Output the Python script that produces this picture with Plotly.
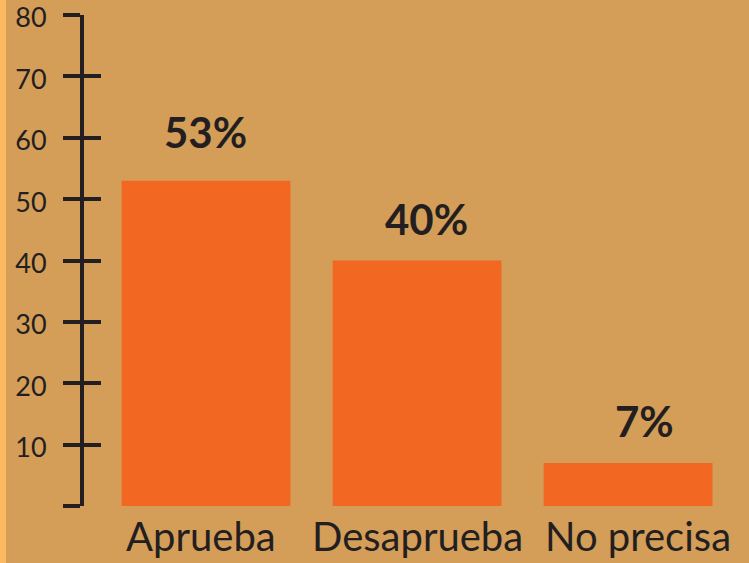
import plotly.graph_objects as go

categories = ["Aprueba", "Desaprueba", "No precisa"]
values = [53, 40, 7]
tick_vals = [0, 10, 20, 30, 40, 50, 60, 70, 80]
tick_text = ["", "10", "20", "30", "40", "50", "60", "70", "80"]

BG = "#D49D58"
BAR = "#F26722"
INK = "#231F20"
FONT = "Lato"

# nudges for the labels, as set in the original
label_dx = [0, 9, 16]
label_dy = [22, 15, 15]
cat_dx = [-5, 0, 10]

fig = go.Figure()

fig.add_trace(
    go.Bar(
        x=categories,
        y=values,
        marker=dict(color=BAR, line=dict(width=0)),
        width=0.8,
        showlegend=False,
        hoverinfo="skip",
    )
)
# invisible trace so the overlay axis (crossing ticks) is drawn
fig.add_trace(
    go.Scatter(x=categories, y=values, yaxis="y2", mode="markers",
               marker=dict(opacity=0), showlegend=False, hoverinfo="skip")
)

for cat, v, dx, dy in zip(categories, values, label_dx, label_dy):
    fig.add_annotation(
        x=cat, y=v, text=f"<b>{v}%</b>", showarrow=False,
        yanchor="bottom", yshift=dy, xshift=dx,
        font=dict(family=FONT, size=42, color=INK),
    )

# category names under the bars
for cat, dx in zip(categories, cat_dx):
    fig.add_annotation(
        x=cat, y=0, yref="paper", text=cat, showarrow=False,
        yanchor="top", yshift=-4, xshift=dx,
        font=dict(family=FONT, size=40, color=INK),
    )

axis_common = dict(
    range=[0, 80],
    tickmode="array",
    tickvals=tick_vals,
    showgrid=False,
    zeroline=False,
    tickwidth=4,
    ticklen=17,
    tickcolor=INK,
)

fig.update_layout(
    width=749,
    height=563,
    paper_bgcolor=BG,
    plot_bgcolor=BG,
    margin=dict(l=84, r=0, t=15, b=57, autoexpand=False),
    bargap=0.2,
    xaxis=dict(
        type="category",
        range=[-0.578, 2.573],
        showline=False,
        ticks="",
        showgrid=False,
        showticklabels=False,
        automargin=False,
    ),
    yaxis=dict(
        **axis_common,
        ticktext=tick_text,
        ticks="outside",
        showline=True,
        linewidth=4,
        linecolor=INK,
        tickfont=dict(family=FONT, size=27, color=INK),
        ticklabelstandoff=11,
        ticklabelshift=3,
        ticklabeloverflow="allow",
        automargin=False,
    ),
    yaxis2=dict(
        **axis_common,
        overlaying="y",
        side="left",
        ticks="inside",
        showticklabels=False,
        showline=False,
    ),
    shapes=[
        dict(type="rect", xref="paper", yref="paper",
             x0=-0.2, x1=-78 / 665, y0=-0.2, y1=1.1,
             fillcolor="#FDB862", line=dict(width=0), layer="below"),
    ],
)

fig.write_html("out.html", config={"displayModeBar": False},
               post_script="document.body.style.margin='0';")
